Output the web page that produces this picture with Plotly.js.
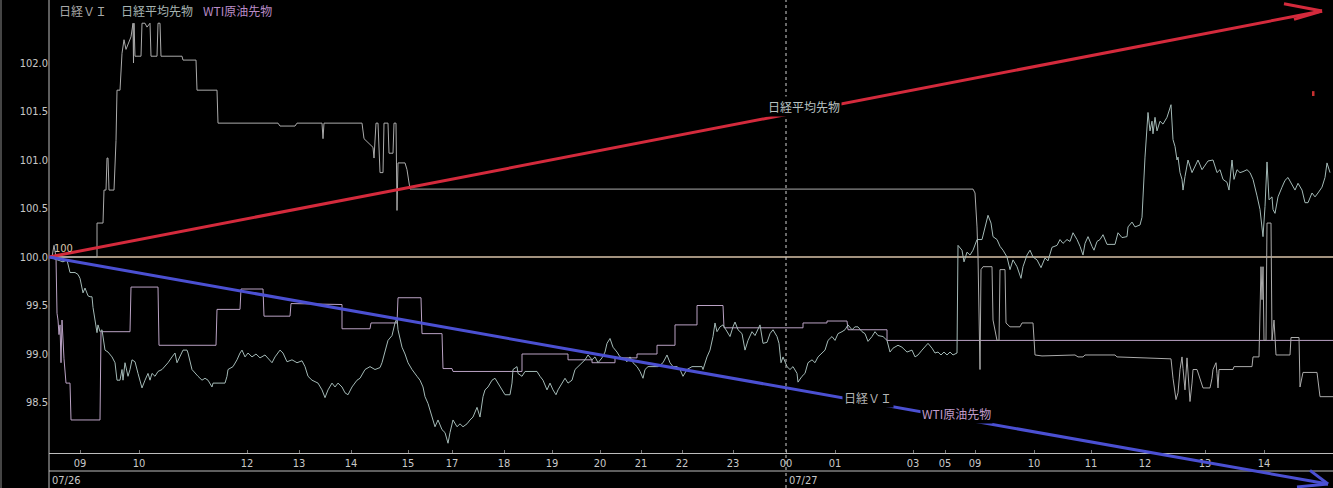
<!DOCTYPE html>
<html><head><meta charset="utf-8">
<script src="https://cdn.plot.ly/plotly-3.0.1.min.js"></script>
<style>html,body{margin:0;padding:0;background:#000;overflow:hidden}#chart{width:1333px;height:488px;}</style>
</head><body><div id="chart"></div>
<script>
// ---- data (x = bar index on the tick-compressed time axis, y = indexed value, start = 100) ----
const seriesNames = ['日経ＶＩ', '日経平均先物', 'WTI原油先物'];
const baseLevel = 100;

const viPts = [[49,100],[52,100],[54,100.12],[56,100],[97,100],[97,100.35],[103,100.35],[104,100.69],[106,100.69],[107,101.02],[108,101.02],[109,100.69],[114,100.69],[116,101.2],[117,101.72],[120,101.72],[122,102.1],[124,102.24],[126,102.14],[128,102.2],[131,102.27],[133,102.41],[133.5,102.0],[134,102.41],[135,102.07],[141,102.07],[142,102.41],[145,102.41],[147,102.37],[150,102.41],[151,102.07],[157,102.07],[158,102.41],[160,102.41],[161,102.07],[182,102.07],[183,102.03],[196,102.03],[197,101.72],[217,101.72],[218,101.38],[278,101.38],[280,101.35],[295,101.35],[297,101.38],[322,101.38],[323,101.22],[324,101.38],[362,101.38],[364,101.22],[368,101.18],[371,101.15],[373,101.13],[374,101.02],[376,101.38],[378,101.38],[380,100.87],[383,100.87],[384,101.38],[388,101.38],[389,101.07],[393,101.07],[394,101.38],[396,101.38],[397,100.48],[398,100.97],[405,100.97],[407,100.9],[409,100.76],[410,100.7],[973,100.7],[975,100.66],[977,100.31],[978,100.0],[980,98.84],[981,99.87],[983,99.9],[992,99.9],[993,99.35],[995,99.25],[997,99.14],[999,99.14],[1000,99.87],[1005,99.87],[1006,99.32],[1010,99.28],[1020,99.28],[1022,99.32],[1033,99.32],[1035,98.99],[1042,98.98],[1075,98.99],[1078,98.97],[1083,98.97],[1085,98.99],[1115,98.99],[1117,98.97],[1171,98.95],[1173,98.75],[1176,98.53],[1178,98.6],[1180,98.84],[1182,98.97],[1183,98.85],[1185,98.63],[1187,98.96],[1188,98.8],[1190,98.51],[1192,98.7],[1193,98.84],[1197,98.84],[1200,98.75],[1203,98.65],[1210,98.65],[1212,98.75],[1213,98.84],[1216,98.91],[1217,98.8],[1218,98.65],[1219,98.84],[1233,98.84],[1234,98.87],[1252,98.87],[1253,98.97],[1259,98.97],[1261,99.9],[1262,99.56],[1263,99.9],[1264,99.14],[1266,99.14],[1267,100.35],[1271,100.35],[1272,99.14],[1274,99.35],[1276,98.99],[1290,98.99],[1291,99.17],[1299,99.17],[1300,98.66],[1303,98.81],[1317,98.81],[1320,98.56],[1333,98.56]];

const nkPts = [[49,100],[57,99.97],[63,99.95],[67,99.97],[68,99.92],[70,99.84],[75,99.84],[78,99.82],[80,99.78],[81,99.73],[83,99.63],[85,99.68],[88,99.6],[90,99.59],[92,99.59],[93,99.48],[95,99.32],[97,99.22],[98,99.3],[100,99.23],[102,99.25],[103,99.18],[105,99.04],[108,99.02],[112,98.97],[115,98.91],[117,98.73],[120,98.73],[122,98.84],[123,98.73],[125,98.91],[128,98.77],[130,98.84],[132,98.94],[135,98.92],[138,98.8],[140,98.73],[142,98.65],[145,98.73],[148,98.8],[150,98.73],[152,98.8],[155,98.77],[158,98.82],[162,98.84],[165,98.87],[168,98.91],[172,98.97],[175,99.01],[177,98.91],[180,98.97],[183,99.04],[187,99.04],[188,99.01],[192,98.84],[195,98.8],[198,98.77],[202,98.73],[205,98.75],[208,98.73],[212,98.66],[213,98.7],[225,98.7],[227,98.77],[228,98.84],[233,98.87],[237,98.94],[240,99.01],[242,99.04],[245,98.97],[248,99.01],[252,98.97],[256,99.0],[260,98.96],[265,98.99],[272,98.91],[275,98.97],[280,99.04],[283,99.01],[287,98.92],[292,98.94],[297,98.91],[302,98.93],[305,98.87],[308,98.77],[312,98.73],[318,98.7],[322,98.63],[325,98.55],[328,98.63],[332,98.7],[335,98.66],[338,98.7],[342,98.66],[345,98.6],[348,98.58],[352,98.66],[357,98.73],[360,98.75],[365,98.84],[370,98.87],[375,98.84],[380,98.86],[382,98.91],[385,99.04],[388,99.14],[392,99.19],[395,99.32],[397,99.37],[398,99.25],[402,99.07],[405,99.0],[408,98.91],[412,98.84],[417,98.77],[420,98.73],[423,98.66],[425,98.56],[428,98.49],[432,98.35],[435,98.25],[438,98.32],[442,98.22],[445,98.19],[448,98.08],[450,98.19],[453,98.32],[457,98.25],[460,98.28],[463,98.25],[467,98.28],[470,98.32],[473,98.35],[477,98.45],[480,98.35],[483,98.56],[485,98.63],[488,98.66],[492,98.73],[495,98.75],[498,98.7],[502,98.63],[505,98.58],[510,98.58],[512,98.7],[513,98.84],[517,98.87],[518,98.8],[522,98.77],[525,98.82],[537,98.82],[540,98.77],[543,98.73],[547,98.63],[550,98.7],[553,98.63],[556,98.58],[558,98.63],[562,98.7],[565,98.75],[568,98.7],[572,98.73],[575,98.84],[578,98.87],[582,98.91],[585,98.94],[588,98.99],[592,98.94],[595,98.97],[598,98.91],[602,98.96],[605,99.02],[607,99.11],[610,99.16],[613,99.07],[617,99.02],[620,98.97],[623,98.96],[627,98.92],[630,98.97],[633,98.91],[637,98.87],[640,98.82],[643,98.75],[645,98.84],[648,98.87],[658,98.87],[663,98.91],[667,98.99],[670,98.91],[673,98.87],[677,98.87],[680,98.84],[683,98.77],[687,98.84],[692,98.87],[702,98.87],[703,98.84],[707,98.97],[710,99.04],[713,99.18],[715,99.32],[717,99.23],[720,99.28],[723,99.3],[727,99.23],[730,99.18],[733,99.28],[735,99.33],[738,99.25],[742,99.21],[745,99.04],[748,99.14],[752,99.23],[755,99.19],[760,99.3],[763,99.11],[767,99.12],[770,99.21],[773,99.25],[777,99.18],[779,99.11],[781,98.91],[783,98.97],[787,98.87],[790,98.84],[793,98.87],[797,98.8],[798,98.71],[802,98.77],[805,98.8],[808,98.91],[812,98.94],[815,98.91],[818,98.97],[822,99.01],[825,99.04],[828,99.14],[832,99.18],[835,99.14],[838,99.21],[842,99.23],[845,99.25],[848,99.3],[852,99.25],[855,99.28],[858,99.28],[862,99.23],[865,99.21],[868,99.13],[872,99.18],[875,99.23],[878,99.19],[883,99.18],[887,99.14],[890,99.02],[893,99.06],[898,99.09],[902,99.07],[907,99.02],[912,99.04],[915,98.97],[918,98.99],[922,99.04],[925,99.07],[928,99.11],[932,99.06],[935,99.01],[938,99.02],[941,98.99],[944,99.02],[947,98.99],[950,99.02],[953,98.99],[957,99.01],[958,100.12],[962,100.07],[964,99.95],[967,100.05],[970,100.02],[973,100.07],[977,100.18],[982,100.18],[985,100.31],[988,100.43],[991,100.35],[993,100.21],[997,100.18],[1000,100.11],[1003,100.07],[1007,100.0],[1010,99.87],[1013,99.97],[1017,99.9],[1021,99.78],[1023,99.9],[1027,100.02],[1030,100.07],[1033,100.0],[1037,99.97],[1041,99.89],[1045,99.99],[1048,99.96],[1052,100.1],[1057,100.12],[1060,100.18],[1063,100.14],[1067,100.18],[1070,100.16],[1073,100.25],[1077,100.18],[1080,100.11],[1083,100.02],[1085,100.14],[1088,100.21],[1092,100.11],[1094,100.07],[1097,100.16],[1100,100.18],[1103,100.23],[1107,100.13],[1112,100.13],[1115,100.13],[1118,100.25],[1122,100.2],[1127,100.21],[1128,100.31],[1132,100.36],[1135,100.31],[1140,100.33],[1142,100.41],[1145,101.03],[1148,101.49],[1150,101.3],[1152,101.4],[1153,101.27],[1155,101.44],[1157,101.3],[1160,101.4],[1163,101.37],[1167,101.44],[1171,101.57],[1173,101.21],[1175,101.14],[1177,101.0],[1178,101.03],[1180,100.87],[1182,100.8],[1183,100.69],[1185,100.83],[1188,101.0],[1192,100.87],[1195,100.93],[1198,101.0],[1202,100.9],[1205,100.95],[1208,100.99],[1213,101.0],[1217,100.87],[1220,100.9],[1223,100.8],[1227,100.77],[1229,100.69],[1232,101.0],[1234,100.8],[1237,100.9],[1240,100.87],[1243,100.88],[1247,100.9],[1250,100.87],[1253,100.8],[1257,100.63],[1260,100.49],[1263,100.21],[1265,100.52],[1267,100.98],[1269,100.59],[1272,100.62],[1273,100.49],[1275,100.45],[1278,100.62],[1282,100.72],[1285,100.79],[1288,100.82],[1292,100.74],[1295,100.69],[1298,100.76],[1302,100.69],[1305,100.56],[1308,100.56],[1312,100.66],[1315,100.62],[1318,100.66],[1322,100.72],[1325,100.82],[1327,100.97],[1330,100.87]];

const wtiPts = [[49,100],[56,100],[57,99.42],[58,99.35],[59,99.2],[60,99.3],[61,98.91],[62,99.35],[64,98.95],[66,98.7],[70,98.7],[71,98.32],[100,98.32],[101,99.23],[130,99.23],[131,99.69],[158,99.69],[159,99.09],[216,99.09],[217,99.46],[240,99.46],[241,99.67],[263,99.67],[264,99.39],[290,99.39],[291,99.52],[342,99.51],[342,99.26],[370,99.26],[371,99.32],[397,99.32],[398,99.58],[421,99.58],[422,99.21],[442,99.21],[443,98.85],[452,98.85],[453,98.82],[522,98.82],[522,99.0],[568,99.0],[568,98.94],[592,98.94],[592,98.91],[615,98.91],[615,98.96],[637,98.96],[637,99.0],[657,99.0],[657,99.09],[675,99.09],[675,99.3],[697,99.3],[697,99.5],[723,99.5],[724,99.27],[803,99.27],[803,99.32],[827,99.32],[827,99.34],[847,99.34],[848,99.25],[887,99.25],[887,99.14],[1333,99.14]];

const tickPos  = [80,139,247,299,351,408,452,504,552,600,641,682,733,786,835,913,945,975,1034,1091,1145,1205,1264];
const tickText = ['09','10','12','13','14','15','17','18','19','20','21','22','23','00','01','03','05','09','10','11','12','13','14'];
const datePos = [49, 786];
const dateText = ['07/26', '07/27'];
const yTicks = [98.5, 99.0, 99.5, 100.0, 100.5, 101.0, 101.5, 102.0];

// ---- layout helpers ----
const X0 = 49, X1 = 1333, Y0 = 97.9794, Y1 = 102.6495;
const PLOT_H = 453, BAND = 35;
const fx = x => (x - X0) / (X1 - X0);
const fy = v => (v - Y0) / (Y1 - Y0);
const pyPix = p => 1 - p / PLOT_H; // pixel row -> paper y

const colVI = '#ababab', colNK = '#a3b9b6', colWTI = '#baa2c4', colWTItxt = '#b98bc6';
const axisCol = '#bdbdbd';
const jp = '"Noto Sans CJK JP", "Noto Sans", sans-serif';
const num = '"Liberation Sans Narrow", "DejaVu Sans Condensed", "Liberation Sans", sans-serif';

const mk = (pts, name, color) => ({
  type: 'scatter', mode: 'lines', name,
  x: pts.map(p => p[0]), y: pts.map(p => p[1]),
  line: {color, width: 1}, hoverinfo: 'skip'
});
const traces = [mk(wtiPts, seriesNames[2], colWTI), mk(viPts, seriesNames[0], colVI), mk(nkPts, seriesNames[1], colNK)];

const line = (x0, y0, x1, y1, color, width, dash) => ({
  type: 'line', xref: 'paper', yref: 'paper', x0, y0, x1, y1, layer: 'above',
  line: {color, width, dash: dash || 'solid'}
});

const bandLineY = pyPix(471);
const bottomY = pyPix(488);
const shapes = [
  // baseline 100
  {type:'line', xref:'paper', yref:'y', x0:0, x1:1, y0:baseLevel, y1:baseLevel, layer:'below', line:{color:'#d9c3a8', width:1.5}},
  // frame lines
  line(0, bottomY, 0, 1, axisCol, 1),
  line(fx(1), bottomY, fx(1), 1, '#8a8a8a', 1),
  line(0, bandLineY, 1, bandLineY, axisCol, 1),
  line(fx(786), bottomY, fx(786), 1, '#d0d0d0', 1, 'dot'),
  // red hand-drawn arrow
  line(fx(49), fy(100), fx(1322), fy(102.536), '#d42a3c', 3),
  line(fx(1284), fy(102.61), fx(1322), fy(102.536), '#d42a3c', 3),
  line(fx(1294), fy(102.45), fx(1322), fy(102.536), '#d42a3c', 3),
  // blue hand-drawn arrow
  line(fx(49), fy(100), fx(1328), fy(97.66), '#4b50d2', 3),
  line(fx(1310), fy(97.80), fx(1328), fy(97.66), '#4b50d2', 3),
  line(fx(1297), fy(97.63), fx(1328), fy(97.66), '#4b50d2', 3),
  // small red mark
  {type:'rect', xref:'x', yref:'y', x0:1312, x1:1314.5, y0:101.66, y1:101.71, line:{width:0}, fillcolor:'#c83030', layer:'above'}
];

const annotations = [
  {text: seriesNames[0], xref:'x', yref:'paper', x:57, y:pyPix(10), xanchor:'left', yanchor:'middle', showarrow:false, font:{family:jp, size:12, color:'#a9a9a9'}},
  {text: seriesNames[1], xref:'x', yref:'paper', x:119, y:pyPix(10), xanchor:'left', yanchor:'middle', showarrow:false, font:{family:jp, size:12, color:'#a6b4b2'}},
  {text: seriesNames[2], xref:'x', yref:'paper', x:201, y:pyPix(10), xanchor:'left', yanchor:'middle', showarrow:false, font:{family:jp, size:12, color:colWTItxt}},
  {text: String(baseLevel), xref:'x', yref:'y', x:52, y:baseLevel, xanchor:'left', yanchor:'bottom', showarrow:false, font:{family:num, size:11, color:'#d9c3a8'}},
  {text: seriesNames[1], xref:'x', yref:'y', x:804, y:101.55, xanchor:'center', yanchor:'middle', showarrow:false, bgcolor:'#000', borderpad:1, font:{family:jp, size:12, color:'#b8c2c0'}},
  {text: seriesNames[0], xref:'x', yref:'y', x:868, y:98.55, xanchor:'center', yanchor:'middle', showarrow:false, bgcolor:'#000', borderpad:1, font:{family:jp, size:12, color:'#b4b4b4'}},
  {text: seriesNames[2], xref:'x', yref:'y', x:956, y:98.39, xanchor:'center', yanchor:'middle', showarrow:false, bgcolor:'#000', borderpad:1, font:{family:jp, size:12, color:'#c09ccb'}}
];
dateText.forEach((t, i) => annotations.push({
  text: t, xref:'x', yref:'paper', x: datePos[i] + 1, y: pyPix(480), xanchor:'left', yanchor:'middle',
  showarrow:false, font:{family:num, size:11, color:'#c8c8c8'}
}));

const layout = {
  width: 1333, height: 488,
  margin: {l: 49, r: 0, t: 0, b: BAND},
  paper_bgcolor: '#000', plot_bgcolor: '#000',
  showlegend: false,
  xaxis: {range: [X0, X1], tickvals: tickPos, ticktext: tickText, showgrid: false, zeroline: false,
          showline: true, linecolor: axisCol, linewidth: 1, ticks: 'inside', ticklen: 3, tickcolor: '#777',
          tickfont: {family: num, size: 11, color: '#c8c8c8'}, fixedrange: true},
  yaxis: {range: [Y0, Y1], tickvals: yTicks, ticktext: yTicks.map(v => v.toFixed(1)), showgrid: false, zeroline: false,
          showline: false, ticks: '', tickfont: {family: num, size: 11, color: '#c8c8c8'}, fixedrange: true},
  shapes, annotations
};
Plotly.newPlot('chart', traces, layout, {staticPlot: true, displayModeBar: false});
</script></body></html>
